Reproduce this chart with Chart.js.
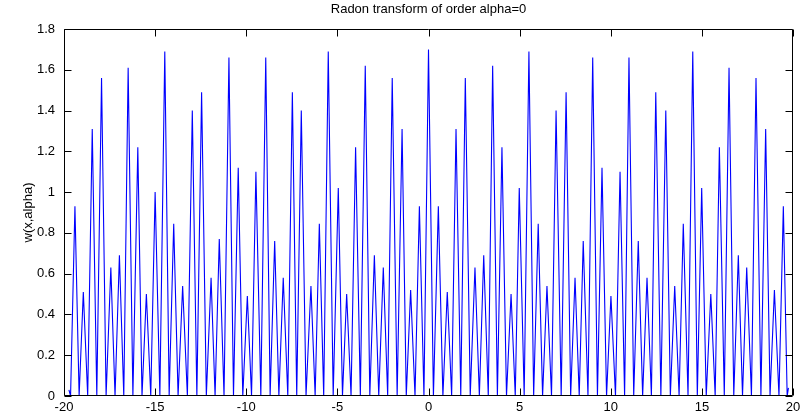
<!DOCTYPE html>
<html>
<head>
<meta charset="utf-8">
<script src="https://cdn.jsdelivr.net/npm/chart.js@4/dist/chart.umd.min.js"></script>
<style>
  html, body { margin: 0; padding: 0; background: #ffffff; }
  canvas { display: block; }
</style>
</head>
<body>
<canvas id="c" width="805" height="419"></canvas>
<script>
// ---- data ----
const titleText = 'Radon transform of order alpha=0';
const yAxisLabel = 'w(x,alpha)';

const xTicks = [-20, -15, -10, -5, 0, 5, 10, 15, 20];
const xTickLabels = ['-20', '-15', '-10', '-5', '0', '5', '10', '15', '20'];
const yTicks = [0, 0.2, 0.4, 0.6, 0.8, 1, 1.2, 1.4, 1.6, 1.8];
const yTickLabels = ['0', '0.2', '0.4', '0.6', '0.8', '1', '1.2', '1.4', '1.6', '1.8'];

// peak positions and heights
const peakX = [
  -19.40, -18.94, -18.45, -17.94, -17.43, -16.96, -16.48, -15.95, -15.48, -15.00,
  -14.47, -13.98, -13.49, -12.96, -12.45, -11.93, -11.48, -10.95, -10.44, -9.94,
  -9.47, -8.93, -8.44, -7.97, -7.47, -6.98, -6.45, -5.99, -5.50, -4.95,
  -4.49, -4.00, -3.47, -2.97, -2.48, -1.99, -1.45, -0.98, -0.50, 0.00,
  0.54, 1.03, 1.51, 2.02, 2.55, 3.03, 3.52, 4.03, 4.53, 4.98,
  5.51, 6.02, 6.50, 7.00, 7.55, 8.04, 8.49, 9.01, 9.52, 10.01,
  10.51, 11.00, 11.51, 11.99, 12.47, 13.02, 13.51, 13.98, 14.50, 14.99,
  15.49, 15.96, 16.49, 17.00, 17.46, 17.97, 18.50, 18.98, 19.47
];
const peakY = [
  0.93, 0.51, 1.31, 1.56, 0.63, 0.69, 1.61, 1.22, 0.50, 1.00,
  1.69, 0.845, 0.54, 1.40, 1.49, 0.58, 0.77, 1.66, 1.12, 0.49,
  1.10, 1.66, 0.76, 0.58, 1.49, 1.40, 0.54, 0.845, 1.69, 1.02,
  0.50, 1.22, 1.62, 0.69, 0.63, 1.56, 1.31, 0.52, 0.93, 1.70,
  0.93, 0.51, 1.31, 1.56, 0.63, 0.69, 1.62, 1.22, 0.50, 1.02,
  1.69, 0.845, 0.54, 1.40, 1.49, 0.58, 0.76, 1.66, 1.12, 0.49,
  1.10, 1.66, 0.76, 0.58, 1.49, 1.40, 0.54, 0.845, 1.69, 1.02,
  0.50, 1.22, 1.61, 0.69, 0.63, 1.56, 1.31, 0.52, 0.93
];
// positions where the curve touches zero (one before each peak, plus one after the last)
const zeroX = [
  -19.64, -19.17, -18.70, -18.20, -17.69, -17.20, -16.72, -16.22, -15.72, -15.24,
  -14.74, -14.23, -13.74, -13.23, -12.71, -12.19, -11.71, -11.22, -10.70, -10.19,
  -9.71, -9.20, -8.69, -8.21, -7.72, -7.23, -6.72, -6.22, -5.75, -5.23,
  -4.72, -4.25, -3.74, -3.22, -2.73, -2.24, -1.72, -1.22, -0.74, -0.25,
  0.27, 0.79, 1.27, 1.77, 2.29, 2.79, 3.28, 3.78, 4.28, 4.76,
  5.25, 5.77, 6.26, 6.75, 7.28, 7.80, 8.27, 8.75, 9.27, 9.77,
  10.26, 10.76, 11.26, 11.75, 12.23, 12.75, 13.27, 13.75, 14.24, 14.75,
  15.24, 15.73, 16.23, 16.75, 17.23, 17.72, 18.24, 18.74, 19.23, 19.68
];
// the small end values at both edges of the trace
const startPoint = { x: -19.73, y: 0.03 };
const endPoint = { x: 19.75, y: 0.04 };

// ---- build the line from the arrays ----
const points = [startPoint];
for (let i = 0; i < peakX.length; i++) {
  points.push({ x: zeroX[i], y: 0 });
  points.push({ x: peakX[i], y: peakY[i] });
}
points.push({ x: zeroX[zeroX.length - 1], y: 0 });
points.push(endPoint);

const FONT = 'Liberation Sans, Arial, sans-serif';

const boxPlugin = {
  id: 'matlabBox',
  afterDatasetsDraw(chart) {
    const { ctx, chartArea: a, scales } = chart;
    const L = Math.round(a.left) + 0.5, R = Math.round(a.right) - 0.5;
    const T = Math.round(a.top) + 0.5, B = Math.round(a.bottom) - 0.5;
    const tl = 7;
    ctx.save();
    ctx.strokeStyle = '#000000';
    ctx.lineWidth = 1;
    ctx.beginPath();
    ctx.rect(L, T, R - L, B - T);
    xTicks.forEach(v => {
      const px = Math.round(scales.x.getPixelForValue(v)) + 0.5;
      ctx.moveTo(px, B); ctx.lineTo(px, B - tl);
      ctx.moveTo(px, T); ctx.lineTo(px, T + tl);
    });
    yTicks.forEach(v => {
      const py = Math.round(scales.y.getPixelForValue(v)) + 0.5;
      ctx.moveTo(L, py); ctx.lineTo(L + tl, py);
      ctx.moveTo(R, py); ctx.lineTo(R - tl, py);
    });
    ctx.stroke();
    ctx.restore();
  }
};

new Chart(document.getElementById('c'), {
  type: 'line',
  data: {
    datasets: [{
      data: points,
      borderColor: '#0000ff',
      borderWidth: 1.1,
      pointRadius: 0,
      fill: false,
      tension: 0
    }]
  },
  options: {
    responsive: false,
    animation: false,
    devicePixelRatio: 1,
    parsing: false,
    layout: { padding: { left: 0, right: 12, top: 0, bottom: 0 } },
    plugins: {
      legend: { display: false },
      tooltip: { enabled: false },
      title: {
        display: true,
        fullSize: false,
        text: titleText,
        color: '#000000',
        font: { family: FONT, size: 13, weight: 'normal', lineHeight: 1.2 },
        padding: { top: 2, bottom: 11.4 }
      }
    },
    scales: {
      x: {
        type: 'linear',
        min: -20,
        max: 20,
        afterBuildTicks: s => { s.ticks = xTicks.map(v => ({ value: v })); },
        afterFit: s => { s.height = 23; },
        grid: { display: false, drawTicks: false },
        border: { display: false },
        ticks: {
          color: '#000000',
          font: { family: FONT, size: 13 },
          padding: 4,
          maxRotation: 0,
          autoSkip: false,
          callback: v => xTickLabels[xTicks.indexOf(v)]
        }
      },
      y: {
        type: 'linear',
        min: 0,
        max: 1.8,
        afterBuildTicks: s => { s.ticks = yTicks.map(v => ({ value: v })); },
        afterFit: s => { s.width = 64; },
        grid: { display: false, drawTicks: false },
        border: { display: false },
        title: {
          display: true,
          text: yAxisLabel,
          color: '#000000',
          font: { family: FONT, size: 13, lineHeight: 1.2 },
          padding: { top: 21, bottom: 0 }
        },
        ticks: {
          color: '#000000',
          font: { family: FONT, size: 13 },
          padding: 9,
          autoSkip: false,
          callback: v => {
            const i = yTicks.findIndex(t => Math.abs(t - v) < 1e-9);
            return i >= 0 ? yTickLabels[i] : '';
          }
        }
      }
    }
  },
  plugins: [boxPlugin]
});
</script>
</body>
</html>
